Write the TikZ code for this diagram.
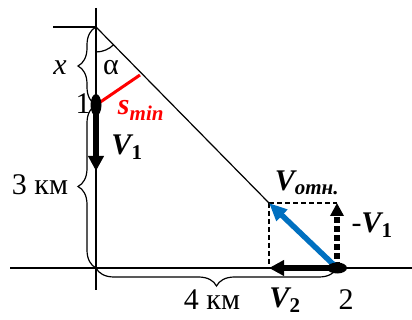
\documentclass[tikz,border=0pt]{standalone}
\usepackage{fontspec}
\setmainfont{Liberation Serif}
\usepackage{xcolor}
\usetikzlibrary{arrows.meta,decorations.pathreplacing}
\definecolor{velb}{HTML}{0070C0}
\definecolor{sred}{HTML}{FF0000}
\tikzset{
  axl/.style={line width=1.2pt,black},
  brc/.style={decorate,decoration={brace,amplitude=18pt},line width=1.2pt},
  vec/.style={-{Triangle[length=15pt,width=15pt]},line width=5.5pt},
  lbl/.style={font=\fontsize{30}{30}\selectfont,inner sep=0pt},
  vlb/.style={lbl,font=\fontsize{30}{30}\selectfont\bfseries\itshape}
}
\newcommand{\sbs}[1]{\textsubscript{#1}}
\newcommand{\sbu}[1]{\textsubscript{\upshape#1}}

\begin{document}
\begin{tikzpicture}[x=1pt,y=-1pt]
\useasboundingbox (0,0) rectangle (412,320);
% points
\coordinate (top) at (96,27);
\coordinate (O) at (96,268);
\coordinate (P1) at (96,105);
\coordinate (P2) at (337,268);
\coordinate (C) at (269,203);
\coordinate (Cr) at (337,203);
\coordinate (F) at (140,75);
% axes
\draw[axl] (96,8) -- (96,290);
\draw[axl] (10,268) -- (412,268);
\draw[axl] (53,27) -- (top);
\draw[axl] (top) -- (C);
% angle
\draw[axl] (96,52) arc[start angle=90,end angle=45,radius=25];
% braces
\draw[brc] (P1) -- (top);
\draw[brc] (O) -- (P1);
\draw[brc] (P2) -- (O);
% dashed box
\draw[axl,dash pattern=on 5pt off 3pt] (C) -- (Cr);
\draw[axl,dash pattern=on 5pt off 3pt] (C) -- (269,268);
% vectors
\draw[vec] (96,110) -- (96,171);
\draw[vec] (P2) -- (269,268);
\draw[vec,dash pattern=on 6pt off 3pt,-{Triangle[length=13pt,width=13pt]}] (P2) -- (Cr);
\draw[vec,velb,-{Triangle[length=18pt,width=15pt]}] (335,266) -- (C);
\draw[line width=3pt,sred] (P1) -- (F);
% dots
\fill (P1) ellipse[x radius=5.5,y radius=11];
\fill (P2) ellipse[x radius=10,y radius=5.5];
% labels
\node[lbl] (lx) at (60,68) {\itshape x};
\node[lbl] (la) at (111,68) {α};
\node[lbl] (l1) at (83,104) {1};
\node[vlb,sred] (ls) at (141,110) {s\sbs{min}};
\node[vlb] (lv1) at (127,147) {V\sbu{1}};
\node[lbl] (l3) at (40,185) {3 км};
\node[lbl] (l4) at (212,300) {4 км};
\node[vlb] (lv2) at (285,300) {V\sbu{2}};
\node[lbl] (l2) at (346,300) {2};
\node[vlb] (lvo) at (307,183) {V\sbs{отн.}};
\node[vlb] (lmv) at (372,225) {{\mdseries\upshape -}V\sbu{1}};
\end{tikzpicture}
\end{document}
